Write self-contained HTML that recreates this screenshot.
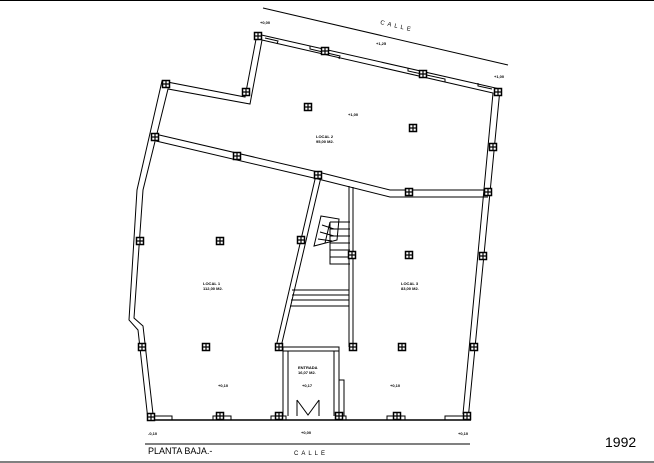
<!DOCTYPE html>
<html><head><style>body{margin:0;background:#fff}svg{display:block}text{font-family:"Liberation Sans",sans-serif;fill:#000}</style></head>
<body>
<svg width="654" height="463" viewBox="0 0 654 463" xmlns="http://www.w3.org/2000/svg">
<defs>
<g id="c"><rect x="-3.5" y="-3.5" width="7" height="7" fill="#fff" stroke="#000" stroke-width="1.5"/><path d="M-3.5 0H3.5M0 -3.5V3.5" stroke="#000" stroke-width="1.2"/></g>
</defs>
<line x1="0" y1="0.5" x2="654" y2="0.5" stroke="#000"/>
<line x1="0" y1="462" x2="654" y2="462" stroke="#000"/>
<g fill="none" stroke="#000" stroke-width="1">
<line x1="263" y1="8" x2="508" y2="65"/>
<polyline points="257,34 500,89 468,420"/>
<polyline points="262,40 493,93 463,414"/>
<polyline points="257,34 245,97 162,81 137,190 129,320 138,330 148,420"/>
<polyline points="262,40 250,104 168,89 143,190 134,318 143,326 153,414"/>
<line x1="147" y1="420" x2="471" y2="420" stroke-width="1.6"/>
<polyline points="155,134 318,172 390,190 488,190"/>
<polyline points="156,141 318,179 390,197 488,197"/>
<line x1="316" y1="175" x2="276" y2="347"/>
<line x1="321" y1="177" x2="281" y2="347"/>
<line x1="349" y1="186" x2="349" y2="347"/>
<line x1="353" y1="187" x2="353" y2="347"/>
<line x1="292" y1="290" x2="349" y2="290"/>
<line x1="292" y1="295" x2="349" y2="295"/>
<line x1="291" y1="300" x2="349" y2="300"/>
<line x1="290" y1="306" x2="349" y2="306"/>
<path d="M330 222H350M330 229H350M330 236H350M330 243H350M330 250H350M330 257H350M330 264H350M330 222V264H350"/>
<path d="M321 216L339 219L337 240L314 246L321 216Z"/>
<path d="M322 225L334 229M320 232L334 236M318 239L332 241M330 222L325 243"/>
<rect x="283" y="347" width="56" height="4"/>
<path d="M283 347V416M288 351V416M334 351V416M339 351V416M339 380H344V416"/>
<path d="M297 400L308 415L319 400M297 400V416M319 400V416"/>
<line x1="145" y1="444" x2="470" y2="444"/>
<path d="M265 38L278 41L277 44M310 46V49L340 56L339 59M408 68V71L445 79V82M478 83V86L492 89"/>
<path d="M152 420V416H172V420M213 420V416H231V420M271 420V416H286V420M336 420V416H346V420M387 420V416H405V420M445 420V416H467"/>
</g>
<g>
<use href="#c" x="258" y="36"/><use href="#c" x="325" y="51"/><use href="#c" x="423" y="74"/><use href="#c" x="498" y="92"/>
<use href="#c" x="166" y="84"/><use href="#c" x="246" y="92"/><use href="#c" x="155" y="137"/><use href="#c" x="237" y="156"/>
<use href="#c" x="318" y="175"/><use href="#c" x="409" y="192"/><use href="#c" x="488" y="192"/><use href="#c" x="308" y="107"/>
<use href="#c" x="413" y="128"/><use href="#c" x="493" y="147"/><use href="#c" x="140" y="241"/><use href="#c" x="220" y="241"/>
<use href="#c" x="301" y="240"/><use href="#c" x="352" y="255"/><use href="#c" x="409" y="255"/><use href="#c" x="483" y="256"/>
<use href="#c" x="142" y="347"/><use href="#c" x="206" y="347"/><use href="#c" x="279" y="347"/><use href="#c" x="353" y="347"/>
<use href="#c" x="402" y="347"/><use href="#c" x="474" y="347"/><use href="#c" x="151" y="417"/><use href="#c" x="220" y="416"/>
<use href="#c" x="279" y="416"/><use href="#c" x="339" y="416"/><use href="#c" x="397" y="416"/><use href="#c" x="467" y="416"/>
</g>
<g font-size="4" font-weight="bold">
<text x="316" y="138">LOCAL 2</text><text x="316" y="143">95,00 M2.</text>
<text x="203" y="285">LOCAL 1</text><text x="203" y="290">112,00 M2.</text>
<text x="401" y="285">LOCAL 3</text><text x="401" y="290">83,00 M2.</text>
<text x="298" y="369">ENTRADA</text><text x="298" y="374">16,07 M2.</text>
<text x="260" y="24">+0,00</text><text x="376" y="45">+1,25</text><text x="494" y="78">+1,00</text><text x="348" y="116">+1,00</text>
<text x="218" y="387">+0,10</text><text x="302" y="387">+0,17</text><text x="390" y="387">+0,10</text>
<text x="148" y="435">-0,10</text><text x="301" y="434">+0,00</text><text x="458" y="435">+0,10</text>
</g>
<text x="380" y="24" font-size="6" letter-spacing="3" transform="rotate(13 380 24)">CALLE</text>
<text x="294" y="455" font-size="6" letter-spacing="3">CALLE</text>
<text x="148" y="454" font-size="9">PLANTA BAJA.-</text>
<text x="605" y="447" font-size="14">1992</text>
</svg>
</body></html>
